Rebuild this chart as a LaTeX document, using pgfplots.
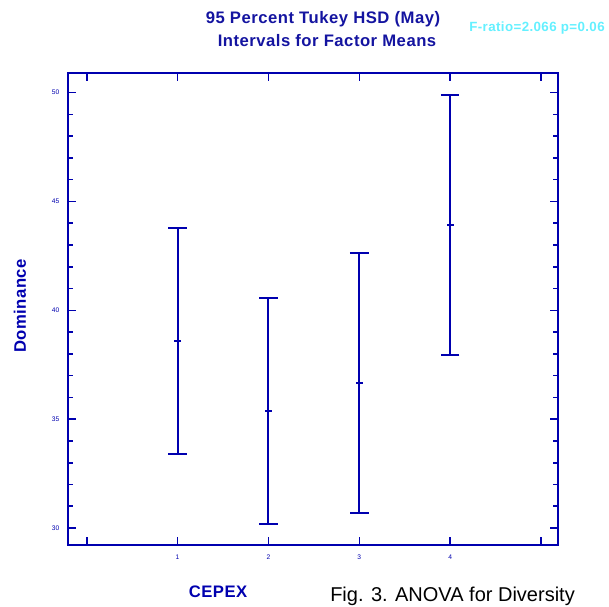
\documentclass[border=0pt]{standalone}
\usepackage{pgfplots}
\pgfplotsset{compat=1.18}
\usepackage{fontspec}
\setmainfont{Liberation Sans}
\definecolor{cblue}{RGB}{0,0,175}
\definecolor{tblue}{RGB}{20,20,160}
\definecolor{fcyan}{RGB}{100,240,255}
\begin{document}
\begin{tikzpicture}[x=0.75pt,y=0.75pt]
  \useasboundingbox (0,0) rectangle (609,606);

  \begin{axis}[
    at={(68pt*0.75,61pt*0.75)}, anchor=south west,
    scale only axis,
    width=367.5pt, height=354pt,
    xmin=-0.206, xmax=5.187,
    ymin=29.22, ymax=50.9,
    xtick={0,1,2,3,4,5},
    xticklabels={,1,2,3,4,},
    ytick={30,35,40,45,50},
    minor y tick num=4,
    tick align=inside,
    major tick length=6pt,
    minor tick length=3.8pt,
    axis line style={cblue,line width=1.5pt},
    every tick/.style={cblue,line width=1.2pt},
    tick label style={cblue,font=\fontsize{5}{6}\selectfont},
    /pgf/number format/assume math mode=true,
    xticklabel style={yshift=-4pt},
    yticklabel style={xshift=-3pt},
    clip=false,
  ]
    \addplot[only marks, mark=-, cblue,
      mark options={solid, cblue, mark size=2.6pt, line width=1.5pt},
      error bars/.cd, y dir=both, y explicit,
      error bar style={solid, cblue, line width=1.5pt},
      error mark options={solid, rotate=90, cblue, mark size=7pt, line width=1.5pt}]
      coordinates {
        (1,38.59) +- (0,5.18)
        (2,35.38) +- (0,5.18)
        (3,36.67) +- (0,5.97)
        (4,43.91) +- (0,5.97)
      };
  \end{axis}

  \node[tblue, font=\bfseries\fontsize{12.5}{14}\selectfont\addfontfeatures{LetterSpace=3}] at (323,587) {95 Percent Tukey HSD (May)};
  \node[tblue, font=\bfseries\fontsize{12.5}{14}\selectfont\addfontfeatures{LetterSpace=3}] at (327,565) {Intervals for Factor Means};
  \node[fcyan, font=\bfseries\fontsize{10}{12}\selectfont\addfontfeatures{LetterSpace=3}] at (537,578) {F-ratio=2.066 p=0.06};
  \node[cblue, font=\bfseries\fontsize{12.5}{14}\selectfont\addfontfeatures{LetterSpace=3}, rotate=90] at (20,300) {Dominance};
  \node[cblue, font=\bfseries\fontsize{12.5}{14}\selectfont\addfontfeatures{LetterSpace=3}] at (218,14) {CEPEX};
  \node[black, font=\fontsize{15}{17}\selectfont, anchor=base west, inner sep=0pt] at (330,5) {Fig. 3. ANOVA for Diversity};
\end{tikzpicture}
\end{document}
